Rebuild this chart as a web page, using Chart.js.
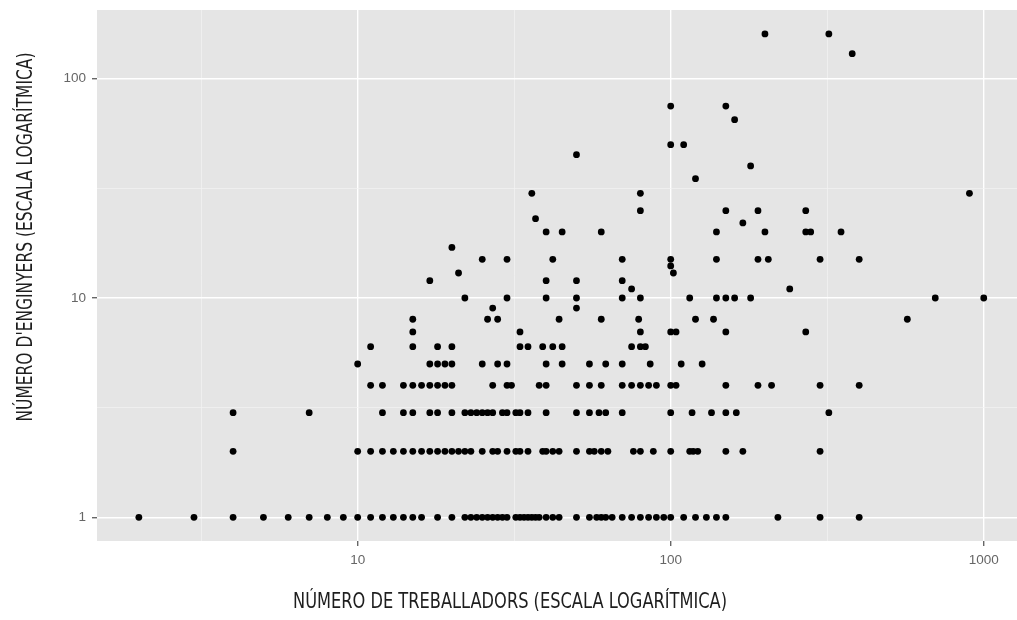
<!DOCTYPE html>
<html>
<head>
<meta charset="utf-8">
<script src="https://cdn.jsdelivr.net/npm/chart.js@4.4.1/dist/chart.umd.min.js"></script>
<style>
  html, body { margin: 0; padding: 0; background: #ffffff; }
  #wrap { width: 1017px; height: 620px; position: relative; }
</style>
</head>
<body>
<div id="wrap"><canvas id="scatterChart"></canvas></div>
<script>
// Nombre d'enginyers (cada fila) i nombre de treballadors de les empreses amb aquest valor
const enginyers = [1, 2, 3, 4, 5, 6, 7, 8, 9, 10, 11, 12, 13, 14, 15, 17, 20, 22, 23, 25, 30, 35, 40, 45, 50, 65, 75, 130, 160];
const treballadors = [
    [2, 3, 4, 5, 6, 7, 8, 9, 10, 11, 12, 13, 14, 15, 16, 18, 20, 22, 23, 24, 25, 26, 27, 28, 29, 30, 32, 33, 34, 35, 36, 37, 38, 40, 42, 44, 50, 55, 58, 60, 62, 65, 70, 75, 80, 85, 90, 95, 100, 110, 120, 130, 140, 150, 220, 300, 400],
    [4, 10, 11, 12, 13, 14, 15, 16, 17, 18, 19, 20, 21, 22, 23, 25, 27, 28, 30, 32, 33, 35, 39, 40, 42, 44, 50, 55, 57, 60, 63, 76, 80, 88, 100, 115, 118, 122, 150, 170, 300],
    [4, 7, 12, 14, 15, 17, 18, 20, 22, 23, 24, 25, 26, 27, 29, 30, 32, 33, 35, 40, 50, 55, 59, 62, 70, 100, 117, 135, 150, 162, 320],
    [11, 12, 14, 15, 16, 17, 18, 19, 20, 27, 30, 31, 38, 40, 50, 55, 60, 70, 75, 80, 85, 90, 100, 104, 150, 190, 210, 300, 400],
    [10, 17, 18, 19, 20, 25, 28, 30, 40, 45, 55, 62, 70, 86, 108, 126],
    [11, 15, 18, 20, 33, 35, 39, 42, 45, 75, 80, 83],
    [15, 33, 80, 100, 104, 150, 270],
    [15, 26, 28, 44, 60, 79, 120, 137, 570],
    [27, 50],
    [22, 30, 40, 50, 70, 80, 115, 140, 150, 160, 180, 700, 1000],
    [75, 240],
    [17, 40, 50, 70],
    [21, 102],
    [100],
    [25, 30, 42, 70, 100, 140, 190, 205, 300, 400],
    [20],
    [40, 45, 60, 140, 200, 270, 280, 350],
    [170],
    [37],
    [80, 150, 190, 270],
    [36, 80, 900],
    [120],
    [180],
    [50],
    [100, 110],
    [160],
    [100, 150],
    [380],
    [200, 320]
];

const xTicks = [3.1623, 10, 31.623, 100, 316.23, 1000];
const yTicks = [1, 3.1623, 10, 31.623, 100];
const majorTicks = [1, 10, 100, 1000];

const xTitle = 'NÚMERO DE TREBALLADORS (ESCALA LOGARÍTMICA)';
const yTitle = "NÚMERO D'ENGINYERS (ESCALA LOGARÍTMICA)";

const points = [];
enginyers.forEach((e, i) => {
    treballadors[i].forEach(t => points.push({ x: t, y: e }));
});

const isMajor = (ctx) => ctx.tick && majorTicks.includes(ctx.tick.value);

const gridOpts = {
    color: (ctx) => isMajor(ctx) ? '#ffffff' : '#f3f3f3',
    lineWidth: (ctx) => isMajor(ctx) ? 1.4 : 0.7,
    tickColor: (ctx) => isMajor(ctx) ? '#666666' : 'rgba(0,0,0,0)',
    tickLength: 5,
    drawTicks: true
};

const tickFont = { family: "'Liberation Sans', Arial, sans-serif", size: 13.5 };

// gray panel behind the points
const panelBg = {
    id: 'panelBg',
    beforeDraw(chart) {
        const { ctx, chartArea: a } = chart;
        ctx.save();
        ctx.fillStyle = '#e5e5e5';
        ctx.fillRect(a.left, a.top, a.right - a.left, a.bottom - a.top);
        ctx.restore();
    }
};

// axis titles in a condensed face, stretched to the reference width
const axisTitles = {
    id: 'axisTitles',
    afterDraw(chart) {
        const ctx = chart.ctx;
        ctx.save();
        ctx.font = "22px 'Liberation Sans Narrow', 'DejaVu Sans Condensed', sans-serif";
        ctx.fillStyle = '#1e1e1e';
        ctx.textAlign = 'center';
        ctx.textBaseline = 'alphabetic';

        let w = ctx.measureText(xTitle).width;
        ctx.save();
        ctx.translate(510, 608);
        ctx.scale(434 / w, 1);
        ctx.fillText(xTitle, 0, 0);
        ctx.restore();

        w = ctx.measureText(yTitle).width;
        ctx.save();
        ctx.translate(32, 237);
        ctx.rotate(-Math.PI / 2);
        ctx.scale(369 / w, 1);
        ctx.fillText(yTitle, 0, 0);
        ctx.restore();
        ctx.restore();
    }
};

new Chart(document.getElementById('scatterChart'), {
    type: 'scatter',
    data: {
        datasets: [{
            data: points,
            backgroundColor: '#000000',
            borderColor: '#000000',
            pointRadius: 3.4,
            pointBorderWidth: 0,
            pointHoverRadius: 3.4
        }]
    },
    options: {
        responsive: true,
        maintainAspectRatio: false,
        animation: false,
        layout: { autoPadding: false, padding: { top: 10, right: 0, left: 0, bottom: 0 } },
        plugins: {
            legend: { display: false },
            tooltip: { enabled: false }
        },
        scales: {
            x: {
                type: 'logarithmic',
                min: 1.47,
                max: 1277,
                afterBuildTicks: (scale) => { scale.ticks = xTicks.map(v => ({ value: v })); },
                afterFit: (scale) => {
                    scale.height = 79;
                    scale.paddingLeft = 0;
                    scale.paddingRight = 0;
                },
                ticks: {
                    autoSkip: false,
                    maxRotation: 0,
                    padding: 6,
                    color: '#666666',
                    font: tickFont,
                    callback: (v) => majorTicks.includes(v) ? String(v) : ''
                },
                grid: gridOpts,
                border: { display: false }
            },
            y: {
                type: 'logarithmic',
                min: 0.78,
                max: 205.6,
                afterBuildTicks: (scale) => { scale.ticks = yTicks.map(v => ({ value: v })); },
                afterFit: (scale) => {
                    scale.width = 97;
                    scale.paddingTop = 0;
                    scale.paddingBottom = 0;
                },
                ticks: {
                    autoSkip: false,
                    padding: 6,
                    color: '#666666',
                    font: tickFont,
                    callback: (v) => majorTicks.includes(v) ? String(v) : ''
                },
                grid: gridOpts,
                border: { display: false }
            }
        }
    },
    plugins: [panelBg, axisTitles]
});
</script>
</body>
</html>
